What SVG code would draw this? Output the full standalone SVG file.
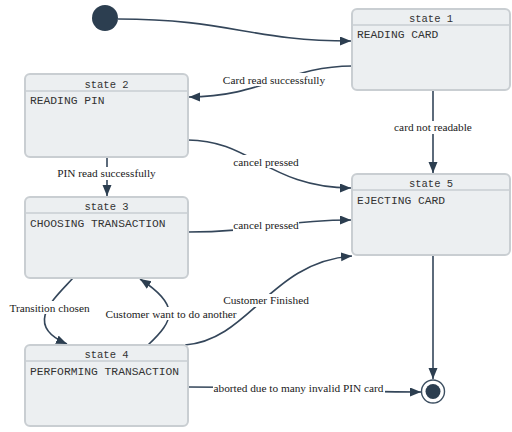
<svg xmlns="http://www.w3.org/2000/svg" width="512" height="432" viewBox="0 0 512 432">
  <style>
    .box { fill: #eceff1; stroke: #c9ced2; stroke-width: 2; }
    .sep { stroke: #c9ced2; stroke-width: 1.5; }
    .title { font-size: 10.5px; fill: #333333; text-anchor: middle; }
    .body { font-size: 11.3px; fill: #333333; }
    .edge { fill: none; stroke: #34465a; stroke-width: 1.6; }
    .lbl { font-size: 11.3px; fill: #1a1a1a; text-anchor: middle; }
    .bg { fill: #ffffff; }
  </style>
  <defs>
    <marker id="arrow" markerUnits="userSpaceOnUse" markerWidth="12" markerHeight="10" refX="11" refY="4.5" orient="auto">
      <path d="M0,0 L11,4.5 L0,9 z" fill="#2c3e50"/>
    </marker>
  </defs>

  <rect width="512" height="432" fill="#ffffff"/>

  <!-- transitions -->
  <g id="edges">
    <path class="edge" d="M118,19 C 230,19 250,41 351,41" marker-end="url(#arrow)"/>
    <path class="edge" d="M352,66 C 290,66 260,97 189,97" marker-end="url(#arrow)"/>
    <path class="edge" d="M433,90 L433,173" marker-end="url(#arrow)"/>
    <path class="edge" d="M188,140 C 250,140 270,188 351,188" marker-end="url(#arrow)"/>
    <path class="edge" d="M107,157 L107,196" marker-end="url(#arrow)"/>
    <path class="edge" d="M188,232 C 260,232 280,220 351,220" marker-end="url(#arrow)"/>
    <path class="edge" d="M73,278 C 55,298 22,325 67,344" marker-end="url(#arrow)"/>
    <path class="edge" d="M148,345 C 175,320 180,305 140,279" marker-end="url(#arrow)"/>
    <path class="edge" d="M185,345 C 250,340 270,262 352,256" marker-end="url(#arrow)"/>
    <path class="edge" d="M433,255 L433,379" marker-end="url(#arrow)"/>
    <path class="edge" d="M188,387 C 300,387 320,392 421,392" marker-end="url(#arrow)"/>

    <!-- transition labels -->
    <g font-family="'Liberation Serif', 'Times New Roman', Times, serif">
      <rect class="bg" x="222" y="73" width="104" height="13"/>
      <text class="lbl" x="274" y="84">Card read successfully</text>
      <rect class="bg" x="394" y="121" width="78" height="13"/>
      <text class="lbl" x="433" y="131">card not readable</text>
      <rect class="bg" x="233" y="155" width="66" height="13"/>
      <text class="lbl" x="266" y="166">cancel pressed</text>
      <rect class="bg" x="56" y="167" width="101" height="13"/>
      <text class="lbl" x="106.5" y="177">PIN read successfully</text>
      <rect class="bg" x="233" y="219" width="66" height="13"/>
      <text class="lbl" x="266" y="229">cancel pressed</text>
      <rect class="bg" x="223" y="294" width="86" height="13"/>
      <text class="lbl" x="266" y="304">Customer Finished</text>
      <rect class="bg" x="8" y="301" width="83" height="13"/>
      <text class="lbl" x="49.5" y="312">Transition chosen</text>
      <rect class="bg" x="104" y="307" width="134" height="13"/>
      <text class="lbl" x="171" y="318">Customer want to do another</text>
      <rect class="bg" x="213" y="382" width="172" height="13"/>
      <text class="lbl" x="298.5" y="392">aborted due to many invalid PIN card</text>
    </g>
  </g>

  <!-- start / end pseudo-states -->
  <g id="initial">
    <circle cx="105" cy="18" r="13" fill="#2c3e50"/>
  </g>
  <g id="final">
    <circle cx="433" cy="391.5" r="11.5" fill="#ffffff" stroke="#3d4f61" stroke-width="1.4"/>
    <circle cx="433" cy="391.5" r="7.5" fill="#2c3e50"/>
  </g>

  <!-- states -->
  <g font-family="'Liberation Mono', 'Courier New', Courier, monospace">
    <g id="state1">
      <rect class="box" x="352" y="9" width="158" height="81" rx="5"/>
      <line class="sep" x1="352" y1="25" x2="510" y2="25"/>
      <text class="title" x="431" y="22">state 1</text>
      <text class="body" x="357" y="38">READING CARD</text>
    </g>
    <g id="state2">
      <rect class="box" x="25" y="74" width="163" height="83" rx="5"/>
      <line class="sep" x1="25" y1="91" x2="188" y2="91"/>
      <text class="title" x="106.5" y="88">state 2</text>
      <text class="body" x="30" y="104">READING PIN</text>
    </g>
    <g id="state3">
      <rect class="box" x="25" y="197" width="163" height="81" rx="5"/>
      <line class="sep" x1="25" y1="213" x2="188" y2="213"/>
      <text class="title" x="106.5" y="210">state 3</text>
      <text class="body" x="30" y="227">CHOOSING TRANSACTION</text>
    </g>
    <g id="state5">
      <rect class="box" x="352" y="174" width="158" height="81" rx="5"/>
      <line class="sep" x1="352" y1="190" x2="510" y2="190"/>
      <text class="title" x="431" y="187">state 5</text>
      <text class="body" x="357" y="204">EJECTING CARD</text>
    </g>
    <g id="state4">
      <rect class="box" x="25" y="345" width="163" height="81" rx="5"/>
      <line class="sep" x1="25" y1="361" x2="188" y2="361"/>
      <text class="title" x="106.5" y="358">state 4</text>
      <text class="body" x="30" y="375">PERFORMING TRANSACTION</text>
    </g>
  </g>
</svg>
